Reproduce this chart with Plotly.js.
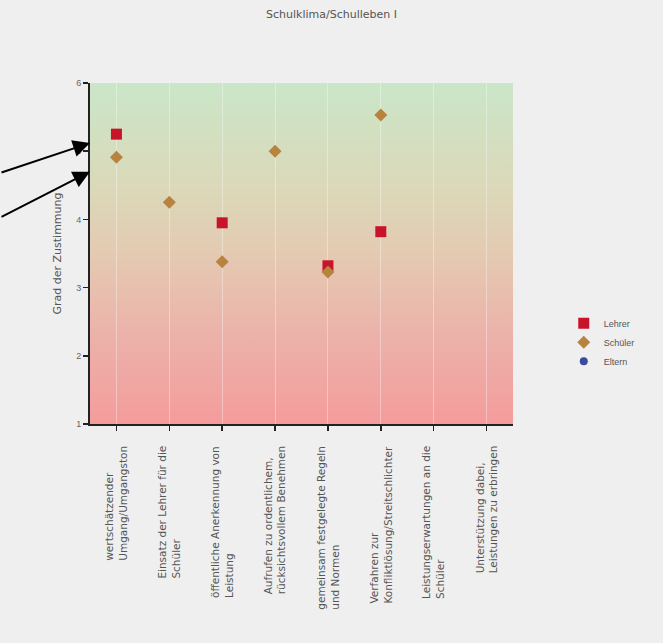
<!DOCTYPE html>
<html>
<head>
<meta charset="utf-8">
<script src="https://cdn.plot.ly/plotly-3.0.1.min.js"></script>
<style>html,body{margin:0;padding:0;background:#efefef;}#chart{width:663px;height:643px;}</style>
</head>
<body>
<div id="chart"></div>
<script>
var categories = [
  "wertschätzender<br>Umgang/Umgangston",
  "Einsatz der Lehrer für die<br>Schüler",
  "öffentliche Anerkennung von<br>Leistung",
  "Aufrufen zu ordentlichem,<br>rücksichtsvollem Benehmen",
  "gemeinsam festgelegte Regeln<br>und Normen",
  "Verfahren zur<br>Konfliktlösung/Streitschlichter",
  "Leistungserwartungen an die<br>Schüler",
  "Unterstützung dabei,<br>Leistungen zu erbringen"
];
var lehrer  = [5.25, null, 3.95, null, 3.32, 3.82, null, null];
var schueler = [4.91, 4.25, 3.38, 5.00, 3.23, 5.53, null, null];
var eltern  = [null, null, null, null, null, null, null, null];
var yTicks = [1, 2, 3, 4, 5, 6];
var titleText = "Schulklima/Schulleben I";
var yTitle = "Grad der Zustimmung";

var idx = categories.map(function(_, i){ return i; });
var FONT = 'DejaVu Sans, Verdana, sans-serif';

var traces = [
  {type:'scatter', mode:'markers', name:'Lehrer', x:idx, y:lehrer,
   marker:{symbol:'square', size:11, color:'#c8142a'}},
  {type:'scatter', mode:'markers', name:'Schüler', x:idx, y:schueler,
   marker:{symbol:'diamond', size:10, color:'#b7833f'}},
  {type:'scatter', mode:'markers', name:'Eltern', x:idx, y:eltern,
   marker:{symbol:'circle', size:8, color:'#3a4a9c'}}
];

var svg = "<svg xmlns='http://www.w3.org/2000/svg' width='10' height='100' preserveAspectRatio='none'>" +
  "<defs><linearGradient id='g' x1='0' y1='0' x2='0' y2='1'>" +
  "<stop offset='0' stop-color='#cbe6c8'/>" +
  "<stop offset='0.3' stop-color='#dad9b9'/>" +
  "<stop offset='0.5' stop-color='#e4cab2'/>" +
  "<stop offset='0.75' stop-color='#ecb1a9'/>" +
  "<stop offset='1' stop-color='#f49c9c'/>" +
  "</linearGradient></defs><rect width='10' height='100' fill='url(#g)'/></svg>";
var bgSrc = "data:image/svg+xml;charset=utf-8," + encodeURIComponent(svg);

var annotations = categories.map(function(c, i){
  return {x:i, xref:'x', y:-0.058, yref:'paper', text:c, showarrow:false,
    textangle:-90, xanchor:'center', yanchor:'top', align:'left',
    font:{family:FONT, size:10.5, color:'#555'}};
});
annotations.push({x:-0.5, xref:'x', y:5.12, yref:'y', ax:-92, ay:30,
  showarrow:true, arrowhead:2, arrowsize:1.7, arrowwidth:2, arrowcolor:'#000', text:''});
annotations.push({x:-0.5, xref:'x', y:4.7, yref:'y', ax:-92, ay:46,
  showarrow:true, arrowhead:2, arrowsize:1.7, arrowwidth:2, arrowcolor:'#000', text:''});

var layout = {
  width:663, height:643,
  paper_bgcolor:'#efefef', plot_bgcolor:'#efefef',
  margin:{l:90, r:150, t:83, b:219},
  title:{text:titleText, x:0.5, xref:'container', y:0.978, yanchor:'middle',
    font:{family:FONT, size:11, color:'#555'}},
  font:{family:FONT, size:9, color:'#555'},
  showlegend:true,
  legend:{x:1.12, xanchor:'left', y:0.24, yanchor:'middle', bgcolor:'rgba(0,0,0,0)',
    font:{family:'Liberation Sans, Arial, sans-serif', size:9, color:'#555'}, itemwidth:30, tracegroupgap:0},
  xaxis:{range:[-0.5, 7.5], tickvals:idx, showticklabels:false, ticks:'outside', ticklen:5,
    tickwidth:1.5, tickcolor:'#222', showline:true, linecolor:'#222', linewidth:2,
    showgrid:true, gridcolor:'rgba(255,255,255,0.35)', gridwidth:1, zeroline:false, fixedrange:true},
  yaxis:{range:[1, 6], tickvals:yTicks, ticks:'outside', ticklen:5, tickwidth:1.5, tickcolor:'#222',
    showline:true, linecolor:'#222', linewidth:2, showgrid:false, zeroline:false,
    tickfont:{family:'Liberation Sans, Arial, sans-serif', size:9, color:'#666'},
    title:{text:yTitle, standoff:12, font:{family:FONT, size:11, color:'#555'}}},
  images:[{source:bgSrc, xref:'paper', yref:'paper', x:0, y:1, sizex:1, sizey:1,
    sizing:'stretch', xanchor:'left', yanchor:'top', layer:'below'}],
  annotations:annotations
};

Plotly.newPlot('chart', traces, layout, {displayModeBar:false, staticPlot:true});
</script>
</body>
</html>
